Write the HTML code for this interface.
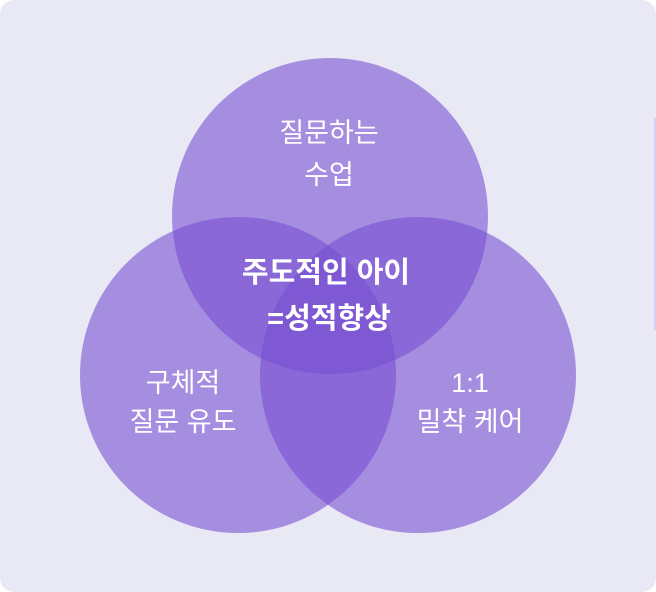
<!DOCTYPE html>
<html><head><meta charset="utf-8"><style>
html,body{margin:0;padding:0;background:#fff;}
.card{position:absolute;left:0;top:0;width:656px;height:592px;background:#e8e9f4;border-radius:14px;overflow:hidden;}
svg{position:absolute;left:0;top:0;}
text{font-family:"Liberation Sans","Noto Sans CJK KR",sans-serif;fill:#fff;text-anchor:middle;}
</style></head><body>
<div class="card">
<svg width="656" height="592" viewBox="0 0 656 592">
<line x1="655" y1="118" x2="655" y2="330" stroke="#cfc6ec" stroke-width="1.5"/>
<g fill="rgb(120,80,210)" fill-opacity="0.6">
<circle cx="330" cy="216" r="158"/>
<circle cx="238" cy="375" r="158"/>
<circle cx="418" cy="375" r="158"/>
</g>
<text x="329" y="142" font-size="27">질문하는</text>
<text x="329" y="184" font-size="27">수업</text>
<text x="183" y="392" font-size="27">구체적</text>
<text x="183" y="431" font-size="27">질문 유도</text>
<text x="470" y="392" font-size="27">1:1</text>
<text x="470" y="431" font-size="27">밀착 케어</text>
<text x="326" y="282" font-size="29" font-weight="bold">주도적인 아이</text>
<text x="329" y="328" font-size="29" font-weight="bold">=성적향상</text>
</svg>
</div>
</body></html>
